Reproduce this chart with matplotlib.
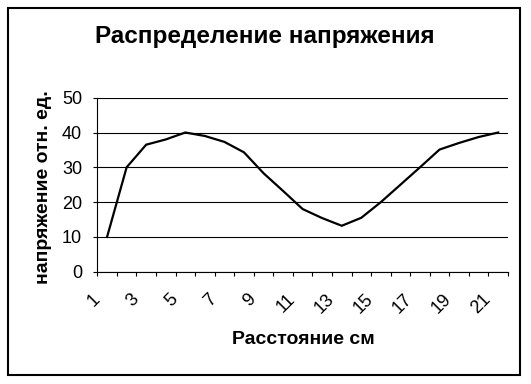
import matplotlib
matplotlib.use("Agg")
import matplotlib.pyplot as plt
from matplotlib.patches import Rectangle
from matplotlib.transforms import ScaledTranslation

# data
distance = list(range(1, 22))
voltage = [10, 30, 36.5, 38, 40, 39, 37.3, 34.3, 28.3, 23.2, 18, 15.4, 13.2,
           15.5, 20, 25, 30, 35.1, 37, 38.7, 40]
label_positions = list(range(1, 22, 2))
tick_labels = [str(v) for v in label_positions]
y_ticks = [0, 10, 20, 30, 40, 50]

plt.rcParams['font.family'] = ['Liberation Sans', 'DejaVu Sans']

W, H = 531, 384
fig = plt.figure(figsize=(W / 100, H / 100), dpi=100)
ax = fig.add_axes([97.3 / W, 1 - 271.7 / H, (508 - 97.3) / W, (271.7 - 97.7) / H])

ax.plot(distance, voltage, color='black', linewidth=1.6, solid_joinstyle='miter')

ax.set_xlim(0.5, 21.5)
ax.set_ylim(0, 50)
ax.set_yticks(y_ticks)
ax.yaxis.grid(True, color='black', linewidth=0.8)
ax.set_axisbelow(True)

for side in ('top', 'right'):
    ax.spines[side].set_visible(False)
for side in ('left', 'bottom'):
    ax.spines[side].set_linewidth(0.8)

# category boundaries carry the tick marks, odd categories carry the labels
ax.set_xticks([b + 0.5 for b in range(0, 22)], minor=True)
ax.set_xticks(label_positions)
ax.set_xticklabels(tick_labels, fontsize=13, rotation=45, ha='right',
                   va='center', rotation_mode='anchor')
ax.tick_params(axis='x', which='major', length=0, pad=18)
ax.tick_params(axis='x', which='minor', length=3, width=0.8, direction='out')
ax.tick_params(axis='y', length=3, width=0.8, direction='out', pad=8, labelsize=13)

shift = ScaledTranslation(-10 / 100, 0, fig.dpi_scale_trans)
for lbl in ax.get_xticklabels():
    lbl.set_transform(lbl.get_transform() + shift)

fig.text(265 / W, 1 - 37 / H, 'Распределение напряжения', fontsize=17.5,
         fontweight='bold', ha='center', va='center')
fig.text(43.3 / W, 1 - 187 / H, 'напряжение отн. ед.', fontsize=14,
         fontweight='bold', rotation=90, ha='center', va='center')
fig.text(303 / W, 1 - 340 / H, 'Расстояние см', fontsize=14,
         fontweight='bold', ha='center', va='center')

# outer chart border
fig.patches.append(Rectangle((7.7 / W, 1 - 375 / H), (520 - 7.7) / W, (375 - 7.7) / H,
                             transform=fig.transFigure, fill=False,
                             edgecolor='black', linewidth=1.5))

fig.savefig('out.png', dpi=100)
